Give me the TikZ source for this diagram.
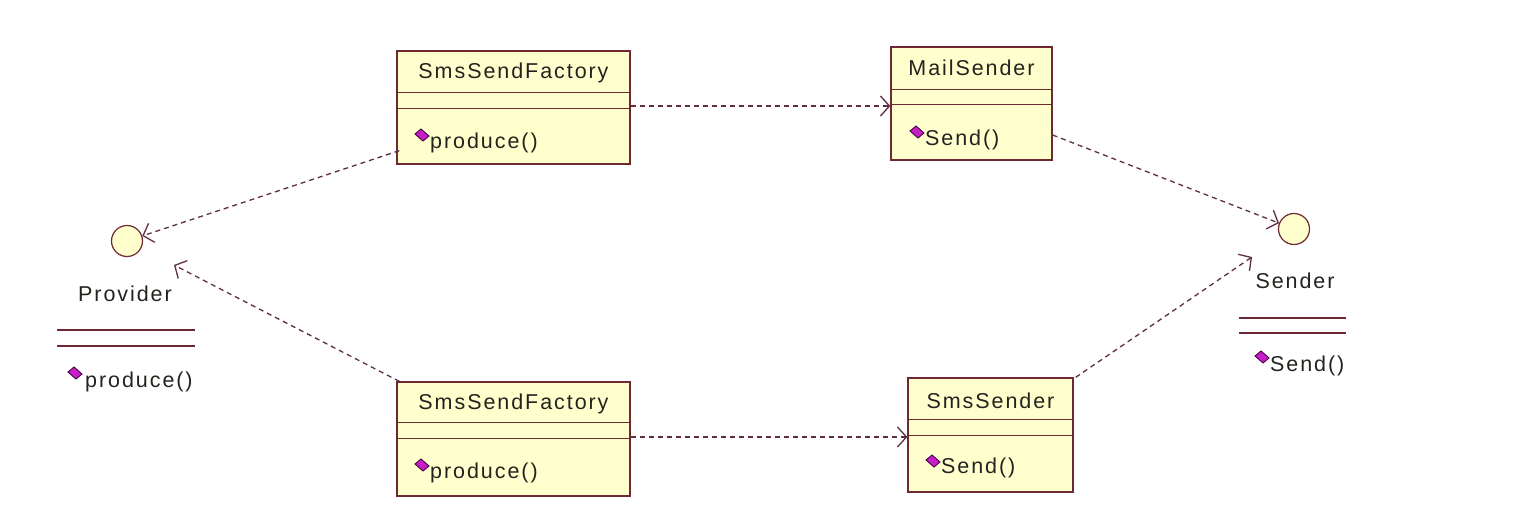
\documentclass[tikz,border=0pt]{standalone}
\usepackage{fontspec}
\setmainfont{Liberation Sans}[LetterSpace=9]
\usetikzlibrary{arrows.meta,calc}
\definecolor{boxc}{RGB}{255,255,206}
\definecolor{bordc}{RGB}{110,40,50}
\definecolor{depc}{RGB}{95,45,70}
\definecolor{txtc}{RGB}{35,35,30}
\definecolor{opc}{RGB}{200,30,200}
\definecolor{opd}{RGB}{70,0,70}
\tikzset{
  cls/.style={draw=bordc, fill=boxc, line width=1.3pt, inner sep=0pt},
  ttl/.style={text=txtc, font=\fontsize{21.5}{24}\selectfont, inner sep=0pt},
  optxt/.style={text=txtc, font=\fontsize{21.5}{24}\selectfont, inner sep=0pt, anchor=west},
  divl/.style={draw=bordc, line width=1.3pt},
  iface/.style={circle, draw=bordc, fill=boxc, line width=1.2pt, minimum size=31pt, inner sep=0pt},
  dep/.style={draw=depc, line width=1.3pt, dash pattern=on 5pt off 4pt,
    -{Straight Barb[length=9pt,width=20pt,line width=1.3pt]}},
}
\newcommand{\opicon}[2]{\draw[fill=opc, draw=opd, line width=0.9pt] (#1-7,#2-1) -- (#1-1,#2-6) -- (#1+7,#2+1) -- (#1+1,#2+6) -- cycle;}
\begin{document}
\begin{tikzpicture}[x=1pt,y=-1pt]
\useasboundingbox (0,0) rectangle (1516,522);
\fill[white] (0,0) rectangle (1516,522);

% top SmsSendFactory
\node[cls, minimum width=233pt, minimum height=113pt] (f1) at (513.5,107.5) {};
\node[ttl] (f1t) at (513.5,73) {SmsSendFactory};
\draw[divl] ($(f1.north west)+(0,42)$) -- ($(f1.north east)+(0,42)$);
\draw[divl] ($(f1.north west)+(0,58)$) -- ($(f1.north east)+(0,58)$);
\opicon{422}{135}
\node[optxt] (f1o) at (430,143) {produce()};

% MailSender
\node[cls, minimum width=161pt, minimum height=113pt] (ms) at (971.5,103.5) {};
\node[ttl] (mst) at (971.5,68) {MailSender};
\draw[divl] ($(ms.north west)+(0,43)$) -- ($(ms.north east)+(0,43)$);
\draw[divl] ($(ms.north west)+(0,58)$) -- ($(ms.north east)+(0,58)$);
\opicon{917}{132}
\node[optxt] (mso) at (925,140) {Send()};

% bottom SmsSendFactory
\node[cls, minimum width=233pt, minimum height=114pt] (f2) at (513.5,439) {};
\node[ttl] (f2t) at (513.5,404) {SmsSendFactory};
\draw[divl] ($(f2.north west)+(0,41)$) -- ($(f2.north east)+(0,41)$);
\draw[divl] ($(f2.north west)+(0,57)$) -- ($(f2.north east)+(0,57)$);
\opicon{422}{465}
\node[optxt] (f2o) at (430,473) {produce()};

% SmsSender
\node[cls, minimum width=165pt, minimum height=114pt] (ss) at (990.5,435) {};
\node[ttl] (sst) at (990.5,401) {SmsSender};
\draw[divl] ($(ss.north west)+(0,42)$) -- ($(ss.north east)+(0,42)$);
\draw[divl] ($(ss.north west)+(0,58)$) -- ($(ss.north east)+(0,58)$);
\opicon{933}{461}
\node[optxt] (sso) at (941,468) {Send()};

% Provider interface
\node[iface] (prov) at (127,241) {};
\node[ttl] (provt) at (125,294) {Provider};
\draw[divl] (57,330) -- (195,330);
\draw[divl] (57,346) -- (195,346);
\opicon{75}{373}
\node[optxt] (provo) at (85,382) {produce()};
\coordinate (provin) at (174,265);

% Sender interface
\node[iface] (send) at (1294,229) {};
\node[ttl] (sendt) at (1295,281) {Sender};
\draw[divl] (1239,318) -- (1346,318);
\draw[divl] (1239,333) -- (1346,333);
\opicon{1262}{357}
\node[optxt] (sendo) at (1270,366) {Send()};
\coordinate (sendin) at (1252,257);

% dependencies
\draw[dep] ([yshift=1.5pt]f1.east) -- ([yshift=-2.5pt]ms.west);
\draw[dep] ([xshift=3pt,yshift=14pt]f1.south west) -- (prov);
\draw[dep] ([xshift=3pt]f2.north west) -- (provin);
\draw[dep] ([yshift=2pt]f2.east) -- ([yshift=-2pt]ss.west);
\draw[dep] ([yshift=-31.5pt]ms.east) -- (send);
\draw[dep] ([xshift=2pt]ss.north east) -- (sendin);
\end{tikzpicture}
\end{document}
